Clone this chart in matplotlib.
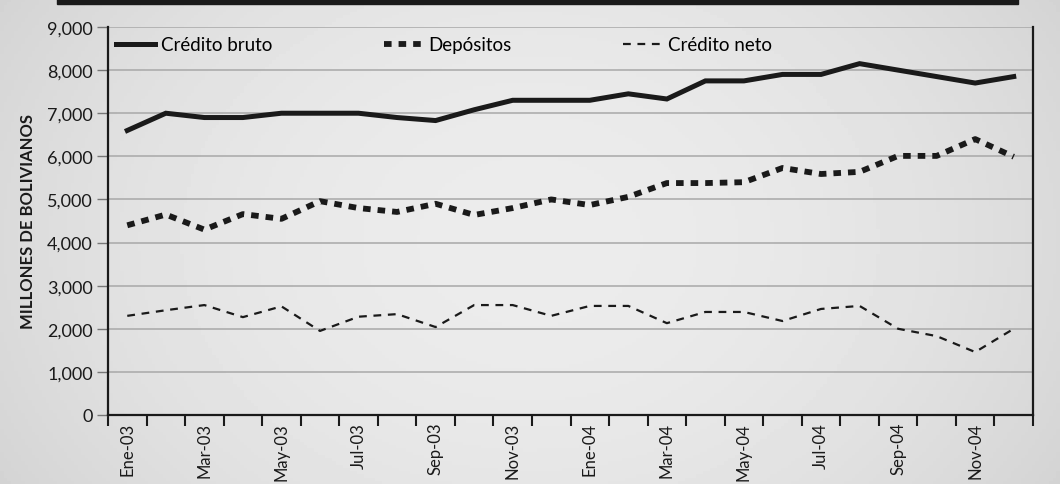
import numpy as np
import matplotlib
matplotlib.use("Agg")
import matplotlib.pyplot as plt
from matplotlib.patches import Rectangle

plt.rcParams.update({
    "font.family": ["Lato", "DejaVu Sans"],
})

# data (millones de bolivianos, monthly)
meses = ["Ene-03", "Feb-03", "Mar-03", "Abr-03", "May-03", "Jun-03",
         "Jul-03", "Ago-03", "Sep-03", "Oct-03", "Nov-03", "Dic-03",
         "Ene-04", "Feb-04", "Mar-04", "Abr-04", "May-04", "Jun-04",
         "Jul-04", "Ago-04", "Sep-04", "Oct-04", "Nov-04", "Dic-04"]
credito_bruto = [6600, 7000, 6900, 6900, 7000, 7000, 7000, 6900, 6830, 7080, 7300, 7300,
                 7300, 7450, 7330, 7750, 7750, 7900, 7900, 8150, 8000, 7850, 7700, 7850]
depositos = [4400, 4650, 4300, 4660, 4550, 4960, 4800, 4710, 4900, 4640, 4800, 5000,
             4870, 5060, 5380, 5380, 5400, 5730, 5590, 5640, 6010, 6010, 6400, 5990]
credito_neto = [2300, 2430, 2550, 2270, 2520, 1950, 2280, 2340, 2040, 2550, 2550, 2300,
                2530, 2530, 2130, 2390, 2390, 2180, 2460, 2530, 2000, 1830, 1460, 2000]
yticks = np.arange(0, 9001, 1000)

fig = plt.figure(figsize=(10.6, 4.85), dpi=100)

# gray paper-like background, darker at the edges
bg = fig.add_axes([0, 0, 1, 1], zorder=-10)
gx = np.linspace(-1, 1, 300)
gy = np.linspace(-1, 1, 150)
X, Y = np.meshgrid(gx, gy)
shade = 0.925 - 0.07 * (np.abs(X) ** 2) - 0.025 * (Y ** 2)
bg.imshow(shade, cmap="gray", vmin=0, vmax=1, aspect="auto", extent=[0, 1, 0, 1])
bg.set_axis_off()

# black bar at the top
fig.patches.append(Rectangle((57 / 1060, 1 - 5 / 485), (1018 - 57) / 1060, 5 / 485,
                             transform=fig.transFigure, color="#1a1a1a", zorder=5))

ax = fig.add_axes([108 / 1060, 1 - 416 / 485, (1033 - 108) / 1060, (416 - 28) / 485])
ax.patch.set_alpha(0)

x = np.arange(len(meses))
ax.plot(x, credito_bruto, color="#1a1a1a", lw=3.6, solid_joinstyle="miter",
        label="Crédito bruto")
ax.plot(x, depositos, color="#1a1a1a", lw=4.2, dashes=(1.3, 1.2),
        dash_capstyle="butt", label="Depósitos")
ax.plot(x, credito_neto, color="#1a1a1a", lw=1.6, dashes=(3.5, 3),
        label="Crédito neto")

ax.set_xlim(-0.5, len(meses) - 0.5)
ax.set_ylim(0, 9000)
ax.set_yticks(yticks)
ax.set_yticklabels([f"{v:,}" for v in yticks], fontsize=13, color="#1a1a1a")
ax.yaxis.grid(True, color="#a8a8a8", lw=1.1)
ax.set_axisbelow(True)

ax.set_xticks(np.arange(-0.5, len(meses), 1.0))
ax.set_xticklabels([])
ax.tick_params(axis="x", which="major", length=8, width=1.5, color="#1a1a1a", direction="out")
ax.set_xticks(x[::2], minor=True)
ax.set_xticklabels(meses[::2], minor=True, rotation=90, fontsize=12, color="#1a1a1a")
ax.tick_params(axis="x", which="minor", length=0, pad=5)
ax.tick_params(axis="y", length=8, width=1, color="#777777", pad=3)

for side in ["left", "bottom", "right"]:
    ax.spines[side].set_color("#1a1a1a")
    ax.spines[side].set_linewidth(1.6)
ax.spines["top"].set_visible(False)

ax.set_ylabel("MILLONES DE BOLIVIANOS", fontsize=12, fontweight="bold",
              color="#1a1a1a", labelpad=8)

ax.legend(loc="upper left", ncol=3, frameon=False, fontsize=13.5,
          handlelength=2.1, handletextpad=0.3, columnspacing=5.95,
          bbox_to_anchor=(-0.006, 1.01), borderaxespad=0.3)

fig.savefig("out.png", dpi=100)
